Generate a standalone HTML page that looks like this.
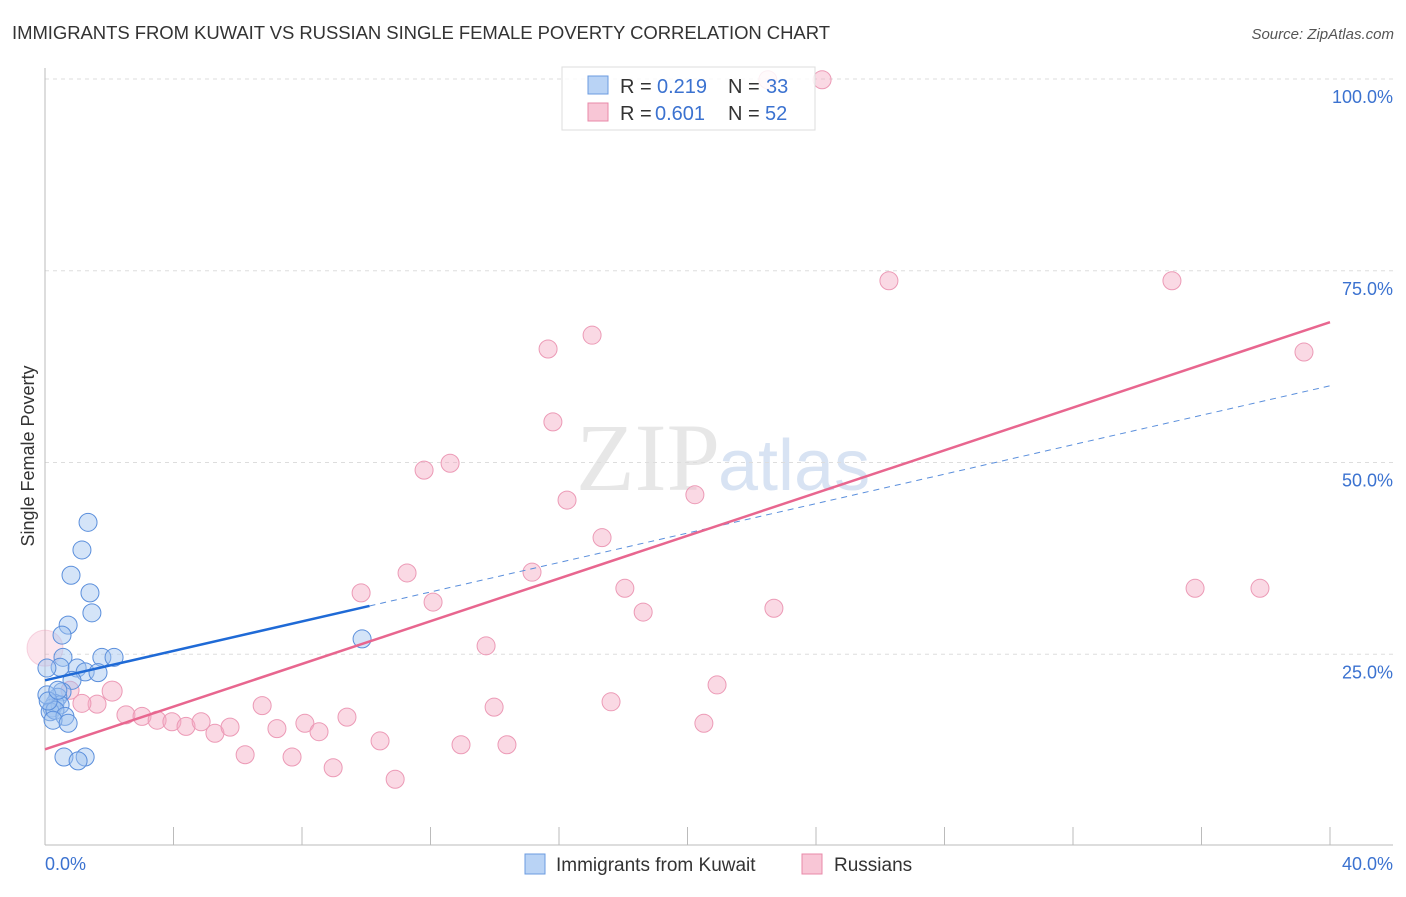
<!DOCTYPE html>
<html><head><meta charset="utf-8"><style>
body{margin:0;background:#fff;font-family:"Liberation Sans",sans-serif;}
</style></head><body>
<svg id="chart" width="1406" height="892" xmlns="http://www.w3.org/2000/svg" style="font-family:'Liberation Sans',sans-serif">
<text x="12" y="39" font-size="18.5" fill="#333" textLength="818">IMMIGRANTS FROM KUWAIT VS RUSSIAN SINGLE FEMALE POVERTY CORRELATION CHART</text>
<text x="1394" y="39" font-size="15" fill="#555" text-anchor="end" font-style="italic">Source: ZipAtlas.com</text>
<text x="720" y="490" font-size="96" fill="#ddd" text-anchor="end" font-family="Liberation Serif" opacity="0.7">ZIP</text>
<text x="718" y="490" font-size="72" fill="#c8d8ee" opacity="0.7">atlas</text>
<g id="grid"></g>
<g id="axes"></g>
<g id="marks"></g>
<text transform="translate(34,456) rotate(-90)" font-size="18" fill="#333" text-anchor="middle">Single Female Poverty</text>
<text x="45" y="870" font-size="18" fill="#3b72d0">0.0%</text>
<text x="1393" y="870" font-size="18" fill="#3b72d0" text-anchor="end">40.0%</text>
<g>
<rect x="562" y="67" width="253" height="63" fill="#fff" fill-opacity="0.85" stroke="#ddd"/>
<rect x="588" y="76" width="20" height="18" fill="#b9d3f5" stroke="#6b9be0"/>
<rect x="588" y="103" width="20" height="18" fill="#f8c6d6" stroke="#e889a8"/>
<text x="620" y="93" font-size="20" fill="#333">R =</text>
<text x="657" y="93" font-size="20" fill="#3b72d0">0.219</text>
<text x="728" y="93" font-size="20" fill="#333">N =</text>
<text x="766" y="93" font-size="20" fill="#3b72d0">33</text>
<text x="620" y="120" font-size="20" fill="#333">R =</text>
<text x="655" y="120" font-size="20" fill="#3b72d0">0.601</text>
<text x="728" y="120" font-size="20" fill="#333">N =</text>
<text x="765" y="120" font-size="20" fill="#3b72d0">52</text>
</g>
<g>
<rect x="525" y="854" width="20" height="20" fill="#b9d3f5" stroke="#6b9be0"/>
<text x="556" y="871" font-size="19" fill="#333">Immigrants from Kuwait</text>
<rect x="802" y="854" width="20" height="20" fill="#f8c6d6" stroke="#e889a8"/>
<text x="834" y="871" font-size="19" fill="#333">Russians</text>
</g>
</svg>
<script>
const yTicks=[25,50,75,100];
const yTickLabels=["25.0%","50.0%","75.0%","100.0%"];
const xTicks=[0,4,8,12,16,20,24,28,32,36,40];
const blueX=[1.34,1.15,0.81,1.40,1.46,0.72,0.53,0.56,1.77,2.15,0.47,1.00,1.25,1.65,0.84,0.53,0.40,0.31,0.22,0.47,0.16,0.31,0.62,0.25,0.72,0.59,1.25,1.03,9.87,0.06,0.06,0.10,0.40];
const blueY=[42.2,38.6,35.3,33.0,30.4,28.8,27.5,24.6,24.6,24.6,23.3,23.2,22.7,22.6,21.6,20.1,19.4,18.6,18.0,18.4,17.5,17.7,16.9,16.4,16.0,11.6,11.6,11.1,27.0,19.7,23.2,18.9,20.3];
const pinkX=[0,24.19,22.5,26.27,35.08,17.03,15.66,39.19,15.81,12.61,11.80,16.25,20.23,17.34,11.27,15.16,9.84,35.80,37.82,18.05,12.08,18.62,22.69,13.73,2.09,1.62,1.15,0.78,20.92,6.76,13.98,17.62,2.52,3.02,3.49,3.95,4.39,4.86,5.29,5.76,6.23,7.22,7.69,8.09,8.53,9.40,8.97,10.43,10.90,12.95,14.38,20.51];
const pinkY=[25.8,99.9,99.9,73.7,73.7,66.6,64.8,64.4,55.3,49.9,49.0,45.1,45.8,40.2,35.6,35.7,33.0,33.6,33.6,33.6,31.8,30.5,31.0,26.1,20.2,18.5,18.6,20.3,21.0,18.3,18.1,18.8,17.1,16.9,16.4,16.2,15.6,16.2,14.7,15.5,11.9,15.3,11.6,16.0,14.9,16.8,10.2,13.7,8.7,13.2,13.2,16.0];
const blueTrend=[21.6,60];
const pinkTrend=[12.6,68.3];
const blueSolidEnd=10.1;
const X=v=>45+v/40*1285, Y=v=>846-v*7.67;
const NS="http://www.w3.org/2000/svg";
function mk(p,t,a){const e=document.createElementNS(NS,t);for(const k in a)e.setAttribute(k,a[k]);document.getElementById(p).appendChild(e);return e;}
yTicks.forEach((t,i)=>{
 const l=mk('grid','line',{x1:45,x2:1393,y1:Y(t),y2:Y(t),stroke:'#ddd','stroke-dasharray':'4,4'});
 
 
 const tx=mk('grid','text',{x:1393,y:Y(t)+24,'font-size':18,fill:'#3b72d0','text-anchor':'end'});
 tx.textContent=yTickLabels[i];
 
 
});
let a=mk('axes','line',{x1:45,x2:45,y1:68,y2:845,stroke:'#bbb'});


a=mk('axes','line',{x1:45,x2:1393,y1:845,y2:845,stroke:'#bbb'});


xTicks.forEach(t=>{const l=mk('axes','line',{x1:X(t),x2:X(t),y1:827,y2:845,stroke:'#bbb'});
 
 });
pinkX.forEach((x,i)=>{const r=i==0?18:(i==24?10:9);const c=mk('marks','circle',{cx:X(x),cy:Y(pinkY[i]),r:r,fill:i==0?'rgba(244,170,196,0.3)':'rgba(244,170,196,0.45)',stroke:'#ec9ab6','stroke-width':1,'stroke-opacity':i==0?0.4:1});
 
 });
blueX.forEach((x,i)=>{const c=mk('marks','circle',{cx:X(x),cy:Y(blueY[i]),r:9,fill:'rgba(160,196,240,0.45)',stroke:'#5b8fdc','stroke-width':1});
 
 });
const bAt=v=>blueTrend[0]+(blueTrend[1]-blueTrend[0])*v/40;
let t=mk('marks','line',{x1:X(blueSolidEnd),y1:Y(bAt(blueSolidEnd)),x2:X(40),y2:Y(bAt(40)),stroke:'#5b8fdc','stroke-width':1,'stroke-dasharray':'6,5'});


t=mk('marks','line',{x1:X(0),y1:Y(bAt(0)),x2:X(blueSolidEnd),y2:Y(bAt(blueSolidEnd)),stroke:'#1f6ad6','stroke-width':2.5});


t=mk('marks','line',{x1:X(0),y1:Y(pinkTrend[0]),x2:X(40),y2:Y(pinkTrend[1]),stroke:'#e8668f','stroke-width':2.5});


</script>
</body></html>
